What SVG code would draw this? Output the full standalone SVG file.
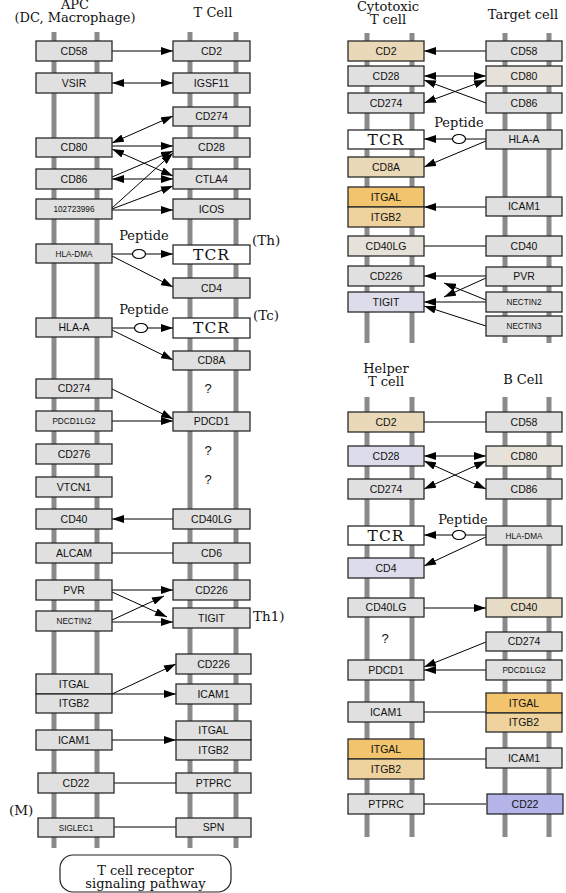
<svg xmlns="http://www.w3.org/2000/svg" width="566" height="893" viewBox="0 0 566 893">
<defs>
<style>
.bar{fill:#8a8a8a}
.b{fill:#e0e0e0;stroke:#2a2a2a;stroke-width:1.3}
.w{fill:#fff}
.tan{fill:#ead9b8}
.bei{fill:#e6e2da}
.or{fill:#f2c46e}
.lor{fill:#eed39e}
.lav{fill:#dcdcea}
.blu{fill:#b4b4e8}
.cd40{fill:#e6dcc6}
.t{font-family:"Liberation Sans",Arial,sans-serif;font-size:10.5px;text-anchor:middle;fill:#111}
.s{font-size:8.2px}
.q{font-family:"Liberation Sans",Arial,sans-serif;font-size:13px;text-anchor:middle;fill:#111}
.sf{font-family:"DejaVu Serif","Liberation Serif",serif;fill:#111}
.h{font-size:13px;text-anchor:middle}
.tcr{font-size:15.5px;text-anchor:middle;letter-spacing:1px}
.l{fill:none;stroke:#000;stroke-width:1}
.e{marker-end:url(#ah)}
.d{marker-start:url(#ah);marker-end:url(#ah)}
.pep{fill:#fff;stroke:#000;stroke-width:1.2}
</style>
<marker id="ah" viewBox="0 0 12 8" refX="12" refY="4" markerWidth="12" markerHeight="8" markerUnits="userSpaceOnUse" orient="auto-start-reverse"><path d="M0,0 L12,4 L0,8 z" fill="#000"/></marker>
</defs>

<g id="bars">
<rect class="bar" x="51.5" y="32" width="5" height="816"/>
<rect class="bar" x="94.5" y="32" width="5" height="816"/>
<rect class="bar" x="187.5" y="32" width="5" height="816"/>
<rect class="bar" x="233.5" y="32" width="5" height="816"/>
<rect class="bar" x="364.5" y="33" width="5" height="310"/>
<rect class="bar" x="409.5" y="33" width="5" height="310"/>
<rect class="bar" x="502.5" y="33" width="5" height="310"/>
<rect class="bar" x="546.5" y="33" width="5" height="310"/>
<rect class="bar" x="364.5" y="397" width="5" height="440"/>
<rect class="bar" x="409.5" y="397" width="5" height="440"/>
<rect class="bar" x="502.5" y="397" width="5" height="440"/>
<rect class="bar" x="546.5" y="397" width="5" height="440"/>
</g>

<g id="labels">
<text class="sf h" x="75" y="9">APC</text>
<text class="sf h" x="75" y="22">(DC, Macrophage)</text>
<text class="sf h" x="213" y="17">T Cell</text>
<text class="sf h" x="388" y="11">Cytotoxic</text>
<text class="sf h" x="388" y="24">T cell</text>
<text class="sf h" x="523" y="19">Target cell</text>
<text class="sf h" x="386" y="373">Helper</text>
<text class="sf h" x="386" y="386">T cell</text>
<text class="sf h" x="523" y="384">B Cell</text>
<text class="sf" x="252" y="245" font-size="13.5">(Th)</text>
<text class="sf" x="253" y="320" font-size="13.5">(Tc)</text>
<text class="sf" x="253" y="621" font-size="13.5">Th1)</text>
<text class="sf" x="9" y="815" font-size="13.5">(M)</text>
<text class="sf h" x="144" y="240">Peptide</text>
<text class="sf h" x="144" y="314">Peptide</text>
<text class="sf h" x="459" y="127">Peptide</text>
<text class="sf h" x="463" y="524">Peptide</text>
<text class="q" x="208" y="393">?</text>
<text class="q" x="208" y="455">?</text>
<text class="q" x="208" y="484">?</text>
<text class="q" x="385" y="643">?</text>
</g>

<g id="connectors">
<path class="l e" d="M112,51 H173"/>
<path class="l d" d="M112,83 H173"/>
<path class="l d" d="M112,143 L173,116"/>
<path class="l e" d="M112,146 H173"/>
<path class="l d" d="M112,149 L173,176"/>
<path class="l e" d="M112,177 L173,151"/>
<path class="l d" d="M112,179 H173"/>
<path class="l e" d="M112,208 L173,153"/>
<path class="l e" d="M112,209 L173,186"/>
<path class="l e" d="M112,210 H173"/>
<path class="l" d="M112,254 H132.5"/>
<ellipse class="pep" cx="139" cy="254" rx="6.5" ry="4.5"/>
<path class="l e" d="M145.5,254 H173"/>
<path class="l e" d="M112,256 L173,287"/>
<path class="l" d="M112,328 H134.5"/>
<ellipse class="pep" cx="141" cy="328" rx="6.5" ry="4.5"/>
<path class="l e" d="M147.5,328 H173"/>
<path class="l e" d="M112,330 L173,360"/>
<path class="l e" d="M112,389 L173,419"/>
<path class="l e" d="M112,421 H173"/>
<path class="l e" d="M173,519 H112"/>
<path class="l" d="M112,553 H173"/>
<path class="l e" d="M112,590 H173"/>
<path class="l e" d="M112,592 L167,617"/>
<path class="l e" d="M112,620 L164,596"/>
<path class="l e" d="M112,622 H173"/>
<path class="l e" d="M112,694 L176,664"/>
<path class="l e" d="M112,694 H176"/>
<path class="l e" d="M112,740 H176"/>
<path class="l" d="M114,783 H176"/>
<path class="l" d="M114,827 H176"/>

<path class="l e" d="M486,51 H424"/>
<path class="l d" d="M424,76 H486"/>
<path class="l e" d="M486,103 L424,80"/>
<path class="l d" d="M486,80 L424,103"/>
<path class="l" d="M486,139 H465.5"/>
<ellipse class="pep" cx="459" cy="139" rx="6.5" ry="4.5"/>
<path class="l e" d="M452.5,139 H424"/>
<path class="l e" d="M486,141 L424,167"/>
<path class="l e" d="M486,207 H424"/>
<path class="l" d="M486,246 H424"/>
<path class="l e" d="M486,276 H424"/>
<path class="l e" d="M486,278 L444,297"/>
<path class="l e" d="M486,300 L444,283"/>
<path class="l e" d="M486,302 H424"/>
<path class="l e" d="M486,326 L424,306"/>

<path class="l" d="M486,422 H424"/>
<path class="l d" d="M424,456 H486"/>
<path class="l d" d="M424,461 L486,489"/>
<path class="l d" d="M486,461 L424,489"/>
<path class="l" d="M486,535 H465.5"/>
<ellipse class="pep" cx="459" cy="535" rx="6.5" ry="4.5"/>
<path class="l e" d="M452.5,535 H424"/>
<path class="l e" d="M486,537 L424,566"/>
<path class="l e" d="M424,608 H486"/>
<path class="l e" d="M486,642 L424,667"/>
<path class="l e" d="M486,670 H424"/>
<path class="l" d="M424,712 H486"/>
<path class="l" d="M424,759 H486"/>
<path class="l" d="M424,804 H486"/>
</g>

<!-- APC column -->
<g id="apc_CD58"><rect class="b" x="36" y="41" width="76" height="20"/><text class="t" x="74" y="55">CD58</text></g>
<g id="apc_VSIR"><rect class="b" x="36" y="73" width="76" height="20"/><text class="t" x="74" y="87">VSIR</text></g>
<g id="apc_CD80"><rect class="b" x="36" y="138" width="76" height="19"/><text class="t" x="74" y="151">CD80</text></g>
<g id="apc_CD86"><rect class="b" x="36" y="169" width="76" height="20"/><text class="t" x="74" y="183">CD86</text></g>
<g id="apc_102723996"><rect class="b" x="36" y="199" width="76" height="20"/><text class="t s" x="74" y="212">102723996</text></g>
<g id="apc_HLA-DMA"><rect class="b" x="36" y="244" width="76" height="19"/><text class="t s" x="74" y="256.5">HLA-DMA</text></g>
<g id="apc_HLA-A"><rect class="b" x="36" y="318" width="76" height="19"/><text class="t" x="74" y="331">HLA-A</text></g>
<g id="apc_CD274"><rect class="b" x="36" y="379" width="76" height="19"/><text class="t" x="74" y="392">CD274</text></g>
<g id="apc_PDCD1LG2"><rect class="b" x="36" y="411" width="76" height="20"/><text class="t s" x="74" y="424">PDCD1LG2</text></g>
<g id="apc_CD276"><rect class="b" x="36" y="444" width="76" height="20"/><text class="t" x="74" y="458">CD276</text></g>
<g id="apc_VTCN1"><rect class="b" x="36" y="477" width="76" height="20"/><text class="t" x="74" y="491">VTCN1</text></g>
<g id="apc_CD40"><rect class="b" x="36" y="509" width="76" height="20"/><text class="t" x="74" y="523">CD40</text></g>
<g id="apc_ALCAM"><rect class="b" x="36" y="543" width="76" height="20"/><text class="t" x="74" y="557">ALCAM</text></g>
<g id="apc_PVR"><rect class="b" x="36" y="580" width="76" height="20"/><text class="t" x="74" y="594">PVR</text></g>
<g id="apc_NECTIN2"><rect class="b" x="36" y="611" width="76" height="20"/><text class="t s" x="74" y="624">NECTIN2</text></g>
<g id="apc_ITGAL_ITGB2"><rect class="b" x="36" y="674" width="76" height="20"/><rect class="b" x="36" y="694" width="76" height="19"/><text class="t" x="74" y="688">ITGAL</text><text class="t" x="74" y="707">ITGB2</text></g>
<g id="apc_ICAM1"><rect class="b" x="36" y="730" width="76" height="20"/><text class="t" x="74" y="744">ICAM1</text></g>
<g id="apc_CD22"><rect class="b" x="38" y="773" width="76" height="20"/><text class="t" x="76" y="787">CD22</text></g>
<g id="apc_SIGLEC1"><rect class="b" x="38" y="818" width="76" height="19"/><text class="t s" x="76" y="830.5">SIGLEC1</text></g>

<!-- T cell column -->
<g id="t_CD2"><rect class="b" x="173" y="41" width="77" height="20"/><text class="t" x="211.5" y="55">CD2</text></g>
<g id="t_IGSF11"><rect class="b" x="173" y="73" width="77" height="20"/><text class="t" x="211.5" y="87">IGSF11</text></g>
<g id="t_CD274"><rect class="b" x="173" y="107" width="77" height="19"/><text class="t" x="211.5" y="120">CD274</text></g>
<g id="t_CD28"><rect class="b" x="173" y="138" width="77" height="19"/><text class="t" x="211.5" y="151">CD28</text></g>
<g id="t_CTLA4"><rect class="b" x="173" y="169" width="77" height="20"/><text class="t" x="211.5" y="183">CTLA4</text></g>
<g id="t_ICOS"><rect class="b" x="173" y="199" width="77" height="20"/><text class="t" x="211.5" y="213">ICOS</text></g>
<g id="t_TCR_Th"><rect class="b w" x="173" y="245" width="77" height="19"/><text class="sf tcr" x="211.5" y="260">TCR</text></g>
<g id="t_CD4"><rect class="b" x="173" y="278" width="77" height="20"/><text class="t" x="211.5" y="292">CD4</text></g>
<g id="t_TCR_Tc"><rect class="b w" x="173" y="318" width="77" height="20"/><text class="sf tcr" x="211.5" y="333">TCR</text></g>
<g id="t_CD8A"><rect class="b" x="173" y="351" width="77" height="19"/><text class="t" x="211.5" y="364">CD8A</text></g>
<g id="t_PDCD1"><rect class="b" x="173" y="412" width="77" height="19"/><text class="t" x="211.5" y="425">PDCD1</text></g>
<g id="t_CD40LG"><rect class="b" x="173" y="509" width="77" height="20"/><text class="t" x="211.5" y="523">CD40LG</text></g>
<g id="t_CD6"><rect class="b" x="173" y="543" width="77" height="20"/><text class="t" x="211.5" y="557">CD6</text></g>
<g id="t_CD226"><rect class="b" x="173" y="580" width="77" height="20"/><text class="t" x="211.5" y="594">CD226</text></g>
<g id="t_TIGIT"><rect class="b" x="173" y="608" width="77" height="20"/><text class="t" x="211.5" y="622">TIGIT</text></g>
<g id="t_CD226b"><rect class="b" x="176" y="654" width="75" height="20"/><text class="t" x="213.5" y="668">CD226</text></g>
<g id="t_ICAM1"><rect class="b" x="176" y="684" width="75" height="20"/><text class="t" x="213.5" y="698">ICAM1</text></g>
<g id="t_ITGAL_ITGB2"><rect class="b" x="176" y="721" width="75" height="19"/><rect class="b" x="176" y="740" width="75" height="20"/><text class="t" x="213.5" y="734">ITGAL</text><text class="t" x="213.5" y="754">ITGB2</text></g>
<g id="t_PTPRC"><rect class="b" x="176" y="773" width="75" height="20"/><text class="t" x="213.5" y="787">PTPRC</text></g>
<g id="t_SPN"><rect class="b" x="176" y="818" width="75" height="19"/><text class="t" x="213.5" y="831">SPN</text></g>

<g id="tcr_pathway"><rect x="60" y="855" width="171" height="37" rx="13" fill="#fff" stroke="#222" stroke-width="1.2"/><text class="sf h" x="145.5" y="875">T cell receptor</text><text class="sf h" x="145.5" y="888">signaling pathway</text></g>

<!-- Cytotoxic T cell / Target cell -->
<g id="c_CD2"><rect class="b tan" x="348" y="41" width="76" height="20"/><text class="t" x="386" y="55">CD2</text></g>
<g id="c_CD28"><rect class="b" x="348" y="66" width="76" height="20"/><text class="t" x="386" y="80">CD28</text></g>
<g id="c_CD274"><rect class="b" x="348" y="93" width="76" height="20"/><text class="t" x="386" y="107">CD274</text></g>
<g id="c_TCR"><rect class="b w" x="348" y="130" width="76" height="19"/><text class="sf tcr" x="386" y="145">TCR</text></g>
<g id="c_CD8A"><rect class="b tan" x="348" y="157" width="76" height="20"/><text class="t" x="386" y="171">CD8A</text></g>
<g id="c_ITGAL_ITGB2"><rect class="b or" x="348" y="187" width="76" height="20"/><rect class="b lor" x="348" y="207" width="76" height="20"/><text class="t" x="386" y="201">ITGAL</text><text class="t" x="386" y="221">ITGB2</text></g>
<g id="c_CD40LG"><rect class="b bei" x="348" y="236" width="76" height="20"/><text class="t" x="386" y="250">CD40LG</text></g>
<g id="c_CD226"><rect class="b" x="348" y="266" width="76" height="20"/><text class="t" x="386" y="280">CD226</text></g>
<g id="c_TIGIT"><rect class="b lav" x="348" y="292" width="76" height="20"/><text class="t" x="386" y="306">TIGIT</text></g>

<g id="tg_CD58"><rect class="b" x="486" y="41" width="76" height="20"/><text class="t" x="524" y="55">CD58</text></g>
<g id="tg_CD80"><rect class="b bei" x="486" y="66" width="76" height="20"/><text class="t" x="524" y="80">CD80</text></g>
<g id="tg_CD86"><rect class="b" x="486" y="93" width="76" height="20"/><text class="t" x="524" y="107">CD86</text></g>
<g id="tg_HLA-A"><rect class="b" x="486" y="130" width="76" height="19"/><text class="t" x="524" y="143">HLA-A</text></g>
<g id="tg_ICAM1"><rect class="b" x="486" y="197" width="76" height="19"/><text class="t" x="524" y="210">ICAM1</text></g>
<g id="tg_CD40"><rect class="b" x="486" y="236" width="76" height="20"/><text class="t" x="524" y="250">CD40</text></g>
<g id="tg_PVR"><rect class="b" x="486" y="267" width="76" height="19"/><text class="t" x="524" y="280">PVR</text></g>
<g id="tg_NECTIN2"><rect class="b" x="486" y="292" width="76" height="20"/><text class="t s" x="524" y="305">NECTIN2</text></g>
<g id="tg_NECTIN3"><rect class="b" x="486" y="316" width="76" height="20"/><text class="t s" x="524" y="329">NECTIN3</text></g>

<!-- Helper T cell / B cell -->
<g id="h_CD2"><rect class="b tan" x="348" y="412" width="76" height="20"/><text class="t" x="386" y="426">CD2</text></g>
<g id="h_CD28"><rect class="b lav" x="348" y="446" width="76" height="20"/><text class="t" x="386" y="460">CD28</text></g>
<g id="h_CD274"><rect class="b" x="348" y="479" width="76" height="20"/><text class="t" x="386" y="493">CD274</text></g>
<g id="h_TCR"><rect class="b w" x="348" y="526" width="76" height="19"/><text class="sf tcr" x="386" y="541">TCR</text></g>
<g id="h_CD4"><rect class="b lav" x="348" y="558" width="76" height="20"/><text class="t" x="386" y="572">CD4</text></g>
<g id="h_CD40LG"><rect class="b" x="348" y="598" width="76" height="19"/><text class="t" x="386" y="611">CD40LG</text></g>
<g id="h_PDCD1"><rect class="b" x="348" y="660" width="76" height="20"/><text class="t" x="386" y="674">PDCD1</text></g>
<g id="h_ICAM1"><rect class="b" x="348" y="702" width="76" height="20"/><text class="t" x="386" y="716">ICAM1</text></g>
<g id="h_ITGAL_ITGB2"><rect class="b or" x="348" y="739" width="76" height="20"/><rect class="b lor" x="348" y="759" width="76" height="20"/><text class="t" x="386" y="753">ITGAL</text><text class="t" x="386" y="773">ITGB2</text></g>
<g id="h_PTPRC"><rect class="b" x="348" y="794" width="76" height="20"/><text class="t" x="386" y="808">PTPRC</text></g>

<g id="bc_CD58"><rect class="b" x="486" y="412" width="76" height="20"/><text class="t" x="524" y="426">CD58</text></g>
<g id="bc_CD80"><rect class="b bei" x="486" y="446" width="76" height="20"/><text class="t" x="524" y="460">CD80</text></g>
<g id="bc_CD86"><rect class="b" x="486" y="479" width="76" height="20"/><text class="t" x="524" y="493">CD86</text></g>
<g id="bc_HLA-DMA"><rect class="b" x="486" y="526" width="76" height="19"/><text class="t s" x="524" y="538.5">HLA-DMA</text></g>
<g id="bc_CD40"><rect class="b cd40" x="486" y="598" width="76" height="19"/><text class="t" x="524" y="611">CD40</text></g>
<g id="bc_CD274"><rect class="b" x="486" y="632" width="76" height="19"/><text class="t" x="524" y="645">CD274</text></g>
<g id="bc_PDCD1LG2"><rect class="b" x="486" y="660" width="76" height="20"/><text class="t s" x="524" y="673">PDCD1LG2</text></g>
<g id="bc_ITGAL_ITGB2"><rect class="b or" x="486" y="693" width="76" height="20"/><rect class="b lor" x="486" y="713" width="76" height="19"/><text class="t" x="524" y="707">ITGAL</text><text class="t" x="524" y="726">ITGB2</text></g>
<g id="bc_ICAM1"><rect class="b" x="486" y="748" width="76" height="20"/><text class="t" x="524" y="762">ICAM1</text></g>
<g id="bc_CD22"><rect class="b blu" x="487" y="794" width="76" height="20"/><text class="t" x="525" y="808">CD22</text></g>
</svg>
